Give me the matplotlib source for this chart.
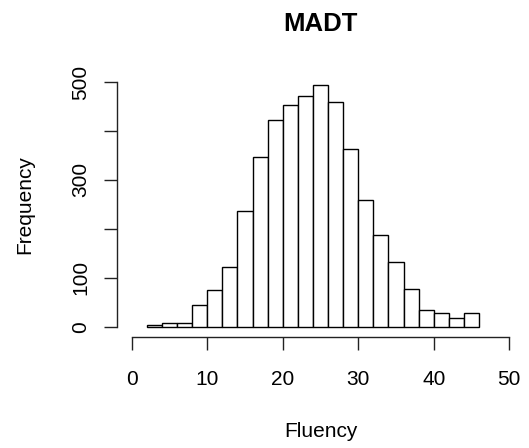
import matplotlib
matplotlib.use("Agg")
import matplotlib.pyplot as plt
import numpy as np

# Histogram data (bins of width 2 from 2 to 46)
bin_edges = [2, 4, 6, 8, 10, 12, 14, 16, 18, 20, 22, 24, 26, 28, 30, 32, 34, 36, 38, 40, 42, 44, 46]
counts = [4, 8, 8, 44, 75, 123, 236, 347, 422, 454, 471, 494, 459, 364, 259, 187, 132, 78, 34, 29, 17, 29]

x_ticks = [0, 10, 20, 30, 40, 50]
x_tick_labels = ["0", "10", "20", "30", "40", "50"]
y_ticks = [0, 100, 200, 300, 400, 500]
y_tick_labels = ["0", "100", "", "300", "", "500"]

title = "MADT"
x_label = "Fluency"
y_label = "Frequency"

plt.rcParams['font.family'] = ['Liberation Sans', 'DejaVu Sans']

W, H = 529, 448
fig = plt.figure(figsize=(W / 100, H / 100), dpi=100)
ax = fig.add_axes([116.6 / W, 1 - 336.5 / H, 407.8 / W, 264.3 / H])

lefts = np.array(bin_edges[:-1])
widths = np.diff(bin_edges)
ax.bar(lefts, counts, width=widths, align='edge', facecolor='white',
       edgecolor='black', linewidth=1.0)

ax.set_xlim(-2, 52)
ax.set_ylim(-20, 520)

for s in ['top', 'right']:
    ax.spines[s].set_visible(False)
ax.spines['left'].set_bounds(0, 500)
ax.spines['bottom'].set_bounds(0, 50)
for s in ['left', 'bottom']:
    ax.spines[s].set_linewidth(1.0)
    ax.spines[s].set_color('#222222')

ax.set_xticks(x_ticks)
ax.set_xticklabels(x_tick_labels)
ax.set_yticks(y_ticks)
ax.set_yticklabels(y_tick_labels, rotation=90, va='center')

ax.tick_params(axis='both', direction='out', length=9.4, width=1.0,
               color='#222222', labelsize=15)
ax.tick_params(axis='x', pad=15)
ax.tick_params(axis='y', pad=9.8)

ax.set_title(title, fontsize=18.5, fontweight='bold', pad=30)
ax.set_xlabel(x_label, fontsize=15)
ax.set_ylabel(y_label, fontsize=15)
ax.xaxis.set_label_coords(0.5, -0.325)
ax.yaxis.set_label_coords(-0.203, 0.5)

fig.savefig("out.png", dpi=100)
